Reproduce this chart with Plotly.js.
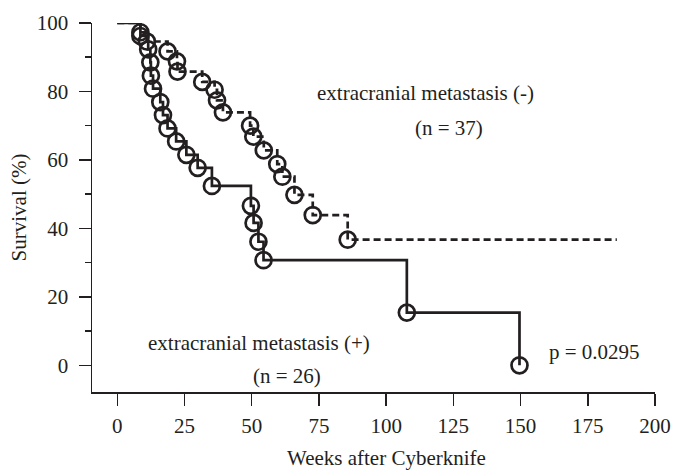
<!DOCTYPE html>
<html>
<head>
<meta charset="utf-8">
<script src="https://cdn.plot.ly/plotly-3.0.1.min.js"></script>
<style>
  html, body { margin: 0; padding: 0; background: #ffffff; }
  #chart { width: 675px; height: 472px; }
</style>
</head>
<body>
<div id="chart"></div>
<script>
// Kaplan-Meier survival after Cyberknife, split by extracranial metastasis status.

// extracranial metastasis (-), n = 37 : event times (weeks) and survival (%)
const weeksNeg = [8.6, 11.0, 18.7, 22.2, 22.4, 31.6, 36.2, 37.1, 39.3, 49.4, 50.6,
                  54.5, 59.5, 61.4, 65.9, 72.7, 85.7];
const survNeg  = [97.3, 94.6, 91.7, 88.8, 85.8, 82.8, 80.5, 77.4, 73.9, 70.0, 66.8,
                  62.8, 58.8, 55.1, 49.8, 43.9, 36.7];
const lastFollowUpNeg = 185.8;

// extracranial metastasis (+), n = 26
const weeksPos = [8.6, 11.5, 12.3, 12.5, 13.3, 16.0, 17.0, 18.7, 21.9, 25.7, 29.9,
                  35.2, 49.7, 50.7, 52.5, 54.4, 107.7, 149.6];
const survPos  = [96.2, 92.3, 88.5, 84.6, 80.8, 76.9, 73.1, 69.2, 65.4, 61.5, 57.7,
                  52.4, 46.6, 41.6, 36.1, 30.7, 15.4, 0];

const xTicks = [0, 25, 50, 75, 100, 125, 150, 175, 200];
const yTicks = [0, 20, 40, 60, 80, 100];

const FONT = "Liberation Serif, Times New Roman, serif";
const INK = "#231f20";

// step curve: starts at 100 % at week 0, drops at each event
function stepLine(weeks, surv, endWeek) {
  const x = [0].concat(weeks);
  const y = [100].concat(surv);
  if (endWeek !== undefined) {
    x.push(endWeek);
    y.push(surv[surv.length - 1]);
  }
  return { x, y };
}

const negLine = stepLine(weeksNeg, survNeg, lastFollowUpNeg);
const posLine = stepLine(weeksPos, survPos);

const circle = {
  symbol: "circle-open",
  size: 16,
  color: INK,
  line: { color: INK, width: 2.7 }
};

const traces = [
  {
    x: negLine.x, y: negLine.y, type: "scatter", mode: "lines",
    line: { shape: "hv", color: INK, width: 2.7, dash: "7px,4px" },
    hoverinfo: "skip", cliponaxis: false
  },
  {
    x: posLine.x, y: posLine.y, type: "scatter", mode: "lines",
    line: { shape: "hv", color: INK, width: 2.7 },
    hoverinfo: "skip", cliponaxis: false
  },
  {
    x: weeksNeg, y: survNeg, type: "scatter", mode: "markers",
    marker: circle, cliponaxis: false
  },
  {
    x: weeksPos, y: survPos, type: "scatter", mode: "markers",
    marker: circle, cliponaxis: false
  }
];

const textFont = { family: FONT, size: 21, color: INK };

const layout = {
  width: 675,
  height: 472,
  margin: { l: 92, r: 20, t: 23, b: 80 },
  paper_bgcolor: "#ffffff",
  plot_bgcolor: "#ffffff",
  showlegend: false,
  font: { family: FONT, size: 21, color: INK },
  xaxis: {
    range: [-9.4, 200],
    tickvals: xTicks,
    ticktext: xTicks.map(String),
    ticks: "outside",
    ticklen: 12,
    tickwidth: 1.5,
    tickcolor: INK,
    showline: true,
    linecolor: INK,
    linewidth: 1.5,
    showgrid: false,
    zeroline: false,
    tickfont: textFont,
    ticklabelstandoff: 2
  },
  yaxis: {
    range: [-7.8, 100],
    tickvals: yTicks,
    ticktext: yTicks.map(String),
    ticks: "outside",
    ticklen: 12,
    tickwidth: 1.5,
    tickcolor: INK,
    minor: { tickvals: [10, 30, 50, 70, 90], ticks: "outside", ticklen: 6, tickwidth: 1.5, tickcolor: INK },
    showline: true,
    linecolor: INK,
    linewidth: 1.5,
    showgrid: false,
    zeroline: false,
    tickfont: textFont,
    ticklabelstandoff: 6,
    title: { text: "Survival (%)", font: textFont, standoff: 4 }
  },
  annotations: [
    { text: "extracranial metastasis (-)", xref: "x", yref: "y", x: 73.6, y: 79.5,
      xanchor: "left", yanchor: "middle", showarrow: false, font: textFont },
    { text: "(n = 37)", xref: "x", yref: "y", x: 123.4, y: 69.4,
      xanchor: "center", yanchor: "middle", showarrow: false, font: textFont },
    { text: "extracranial metastasis (+)", xref: "x", yref: "y", x: 94.7, y: 6.4,
      xanchor: "right", yanchor: "middle", showarrow: false, font: textFont },
    { text: "(n = 26)", xref: "x", yref: "y", x: 63.1, y: -3.2,
      xanchor: "center", yanchor: "middle", showarrow: false, font: textFont },
    { text: "p = 0.0295", xref: "x", yref: "y", x: 159.7, y: 3.8,
      xanchor: "left", yanchor: "middle", showarrow: false, font: textFont },
    { text: "Weeks after Cyberknife", xref: "x", yref: "paper", x: 100, y: 0,
      yshift: -66, xanchor: "center", yanchor: "middle", showarrow: false, font: textFont }
  ]
};

Plotly.newPlot("chart", traces, layout, { staticPlot: true, displayModeBar: false });
</script>
</body>
</html>
